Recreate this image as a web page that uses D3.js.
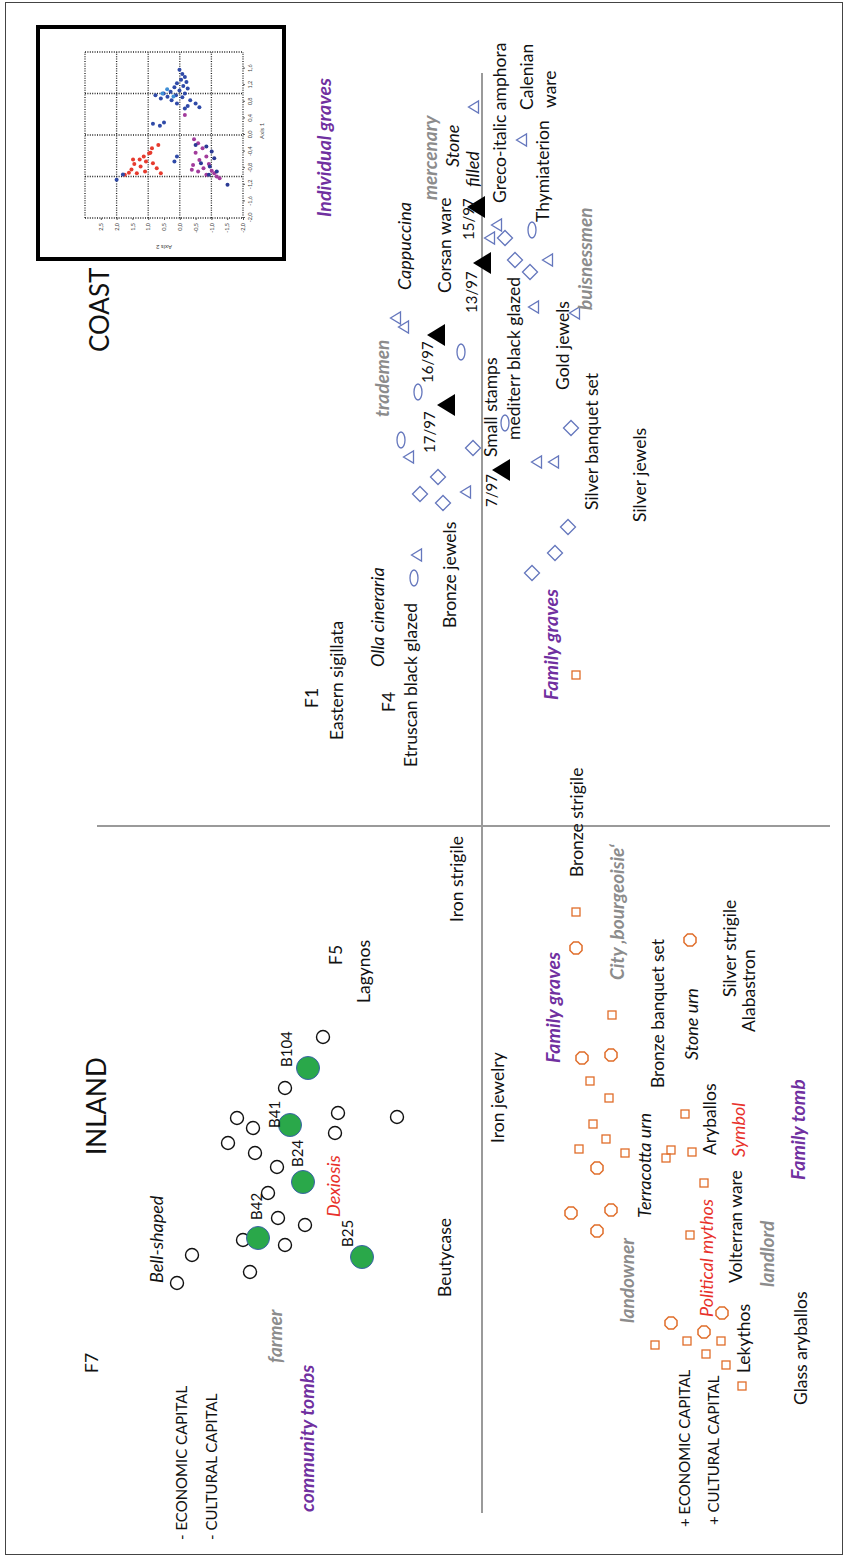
<!DOCTYPE html>
<html>
<head>
<meta charset="utf-8">
<script src="https://cdn.jsdelivr.net/npm/d3@7"></script>
<style>
  body { margin: 0; background: #fff; }
  svg { display: block; }
  text { font-family: Lato, 'Open Sans', sans-serif; fill: #111; }
</style>
</head>
<body>
<svg id="chart"></svg>
<script>
// ---- data (Axis 1 = horizontal, Axis 2 = vertical, in the reading orientation) ----
const openTriangles = [[7.19,0.08],[6.86,-0.40],[6.01,-0.15],[5.88,-0.08],[5.66,-0.66],[5.19,-0.52],
  [5.13,-0.93],[5.08,0.86],[4.99,0.78],[3.69,0.73],[3.34,0.16],[3.64,-0.55],[3.64,-0.72],[2.71,0.65]];
const diamonds = [[5.88,-0.23],[5.66,-0.33],[5.54,-0.48],[3.78,0.09],[3.49,0.44],[3.32,0.62],
  [3.23,0.39],[3.98,-0.89],[2.99,-0.86],[2.73,-0.73],[2.53,-0.50]];
const ellipses = [[5.96,-0.50],[4.74,0.21],[4.34,0.64],[3.86,0.81],[4.03,-0.23],[2.48,0.68]];
const filledTriangles = [[6.19,0.05],[5.63,-0.01],[4.91,0.45],[4.21,0.35],[3.56,-0.20]];
const openCircles = [[-2.11,1.59],[-2.62,1.97],[-2.92,2.45],[-3.02,2.29],[-3.17,2.54],[-3.27,2.27],
  [-3.41,2.05],[-2.87,1.44],[-3.07,1.47],[-2.91,0.85],[-3.67,2.14],[-3.92,2.04],[-3.99,1.77],
  [-4.19,1.97],[-4.14,2.39],[-4.46,2.32],[-4.29,2.90],[-4.57,3.05]];
const greenGraves = ['B104', 'B41', 'B24', 'B42', 'B25'];
const greenPoints = [[-2.42,1.74],[-2.99,1.92],[-3.56,1.79],[-4.12,2.24],[-4.31,1.20]];
const greenLabelPoints = [[-2.41,1.95],[-3.02,2.07],[-3.41,1.84],[-3.94,2.25],[-4.21,1.34]];
const squares = [[1.51,-0.94],[-0.86,-0.94],[-1.89,-1.30],[-2.55,-1.08],[-2.72,-1.27],[-2.98,-1.11],
  [-3.13,-1.24],[-3.23,-0.97],[-3.27,-1.43],[-2.88,-2.03],[-3.24,-1.89],[-3.32,-1.84],[-3.26,-2.10],
  [-3.57,-2.22],[-4.09,-2.08],[-5.19,-1.73],[-5.15,-2.05],[-5.28,-2.24],[-5.15,-2.39],[-5.39,-2.44],
  [-5.60,-2.60]];
const octagons = [[-1.22,-0.94],[-1.14,-2.08],[-2.32,-1.00],[-2.29,-1.29],[-3.42,-1.15],[-3.87,-0.89],
  [-3.84,-1.29],[-4.05,-1.15],[-4.97,-1.89],[-5.06,-2.22],[-4.87,-2.40]];

// text start (left end) of every annotation
const labels = [
  ['COAST', 4.74, 3.82, 'big'], ['INLAND', -3.29, 3.85, 'big'],
  ['Individual graves', 6.09, 1.58, 'group'], ['mercenary', 6.26, 0.52, 'role'],
  ['Stone', 6.59, 0.29, 'italic'], ['filled', 6.39, 0.09, 'italic'],
  ['Greco-italic amphora', 6.23, -0.18, 'plain'], ['Calenian', 7.16, -0.45, 'plain'],
  ['ware', 7.18, -0.68, 'plain'], ['Thymiaterion', 6.04, -0.61, 'plain'],
  ['Cappuccina', 5.36, 0.77, 'italic'], ['Corsan ware', 5.33, 0.37, 'plain'],
  ['15/97', 5.86, 0.13, 'small'], ['13/97', 5.13, 0.10, 'small'],
  ['buisnessmen', 5.16, -1.03, 'role'], ['16/97', 4.43, 0.54, 'small'],
  ['17/97', 3.73, 0.52, 'small'], ['trademen', 4.09, 1.00, 'role'],
  ['Small stamps', 3.69, -0.09, 'plain'], ['mediterr black glazed', 3.86, -0.32, 'plain'],
  ['7/97', 3.19, -0.10, 'small'], ['Gold jewels', 4.36, -0.81, 'plain'],
  ['Silver banquet set', 3.16, -1.10, 'plain'], ['Silver jewels', 3.04, -1.58, 'plain'],
  ['Bronze jewels', 1.98, 0.32, 'plain'], ['Olla cineraria', 1.59, 1.04, 'italic'],
  ['F1', 1.18, 1.70, 'plain'], ['Eastern sigillata', 0.86, 1.45, 'plain'],
  ['F4', 1.14, 0.93, 'plain'], ['Etruscan black glazed', 0.59, 0.71, 'plain'],
  ['Family graves', 1.26, -0.69, 'group'], ['Bronze strigile', -0.51, -0.95, 'plain'],
  ['Iron strigile', -0.96, 0.25, 'plain'], ['City \u201abourgeoisie\u2018', -1.54, -1.35, 'role'],
  ['F5', -1.39, 1.46, 'plain'], ['Lagynos', -1.77, 1.18, 'plain'],
  ['Family graves', -2.37, -0.71, 'group'], ['Bronze banquet set', -2.62, -1.76, 'plain'],
  ['Silver strigile', -1.71, -2.48, 'plain'], ['Alabastron', -2.06, -2.67, 'plain'],
  ['Stone urn', -2.34, -2.10, 'italic'], ['Iron jewelry', -3.17, -0.16, 'plain'],
  ['Aryballos', -3.29, -2.28, 'plain'], ['Symbol', -3.31, -2.57, 'symbol'],
  ['Family tomb', -3.54, -3.16, 'group'], ['Terracotta urn', -3.92, -1.63, 'italic'],
  ['Dexiosis', -3.91, 1.48, 'symbol'], ['Beutycase', -4.71, 0.37, 'plain'],
  ['landowner', -4.97, -1.45, 'role'], ['Political mythos', -4.91, -2.25, 'symbol'],
  ['Volterran ware', -4.57, -2.54, 'plain'], ['landlord', -4.61, -2.85, 'role'],
  ['Lekythos', -5.47, -2.62, 'plain'], ['Glass aryballos', -5.79, -3.19, 'plain'],
  ['+ ECONOMIC CAPITAL', -7.01, -2.03, 'caps'], ['+ CULTURAL CAPITAL', -6.99, -2.32, 'caps'],
  ['- ECONOMIC CAPITAL', -7.14, 3.00, 'caps'], ['- CULTURAL CAPITAL', -7.14, 2.70, 'caps'],
  ['community tombs', -6.86, 1.75, 'group'], ['farmer', -5.37, 2.07, 'role'],
  ['F7', -5.47, 3.90, 'plain'], ['Bell-shaped', -4.57, 3.25, 'italic']
];

// small inset: original scatter (Axis 1, Axis 2)
const insetBlue = [[1.57,0.01],[1.47,-0.08],[1.40,-0.16],[1.33,-0.04],[1.28,-0.21],[1.25,0.09],
  [1.18,-0.11],[1.15,0.17],[1.12,-0.25],[1.07,0.01],[1.04,0.29],[1.00,-0.16],[0.96,0.12],[1.00,0.51],
  [0.92,0.39],[0.91,-0.08],[0.84,-0.33],[0.76,-0.50],[0.70,-0.25],[0.67,-0.62],[0.88,0.60],[0.96,0.77],
  [0.84,0.26],[0.76,0.09],[0.64,-0.16],[0.27,0.85],[0.22,0.63],[0.30,0.50],[-0.95,1.80],[-1.08,2.00],
  [-0.64,0.17],[-0.52,0.09]];
const insetLightBlue = [[1.00,0.55],[1.10,0.40],[0.93,0.20]];
const insetRed = [[-0.24,0.68],[-0.32,0.88],[-0.44,0.97],[-0.52,1.14],[-0.59,1.27],[-0.64,1.07],
  [-0.68,0.85],[-0.70,1.44],[-0.76,1.24],[-0.83,1.53],[-0.80,0.73],[-0.91,1.61],[-0.92,1.36],
  [-0.92,0.60],[-0.96,1.74],[-0.88,1.10],[-0.43,0.93],[-0.59,1.48]];
const insetPurple = [[-0.10,-0.45],[-0.20,-0.58],[-0.32,-0.72],[-0.43,-0.50],[-0.52,-0.84],
  [-0.60,-0.62],[-0.72,-0.42],[-0.70,-0.92],[-0.80,-0.75],[-0.86,-1.01],[-0.88,-0.58],[-0.92,-1.09],
  [-1.00,-1.17],[-0.96,-0.84],[-1.04,-1.26],[-0.84,-0.38],[0.48,-0.16]];
const insetNavy = [[-0.28,-0.84],[-0.40,-1.01],[-0.56,-1.09],[-0.76,-0.95],[-0.88,-1.17],
  [-0.68,-0.67],[-0.96,-0.92],[-0.24,-0.50],[-1.20,-1.51]];
const axis1Ticks = [-2.0, -1.6, -1.2, -0.8, -0.4, 0.0, 0.4, 0.8, 1.2, 1.6];
const axis2Ticks = [-2.0, -1.5, -1.0, -0.5, 0.0, 0.5, 1.0, 1.5, 2.0, 2.5];

// ---- drawing ----
const W = 846, H = 1557;
const blue = '#6577bd', orange = '#e06d2a';

const labelStyle = {
  plain: { size: 17.5 },
  italic: { size: 18, italic: true },
  small: { size: 15 },
  caps: { size: 15 },
  big: { size: 26 },
  group: { size: 19.5, italic: true, weight: 700, color: '#7030a0' },
  role: { size: 19, italic: true, weight: 700, color: '#8c8c8c' },
  symbol: { size: 18, italic: true, color: '#e8312b' }
};

const svg = d3.select('#chart').attr('width', W).attr('height', H);
svg.append('rect').attr('width', W).attr('height', H).attr('fill', '#fff');
svg.append('rect')
  .attr('x', 5.5).attr('y', 2.5).attr('width', 837).attr('height', 1552)
  .attr('fill', 'none').attr('stroke', '#444').attr('stroke-width', 1);

// whole figure is turned a quarter to the left
const g = svg.append('g').attr('transform', `translate(0,${H}) rotate(-90)`);

const x = d3.scaleLinear().domain([-7.31, 8.26]).range([0, H]);
const y = d3.scaleLinear().domain([4.82, -3.64]).range([0, W]);

// axes through the origin
g.append('line')
  .attr('x1', x(-6.87)).attr('x2', x(7.53)).attr('y1', y(0)).attr('y2', y(0))
  .attr('stroke', '#9a9a9a').attr('stroke-width', 2);
g.append('line')
  .attr('x1', x(0)).attr('x2', x(0)).attr('y1', y(3.85)).attr('y2', y(-3.48))
  .attr('stroke', '#9a9a9a').attr('stroke-width', 2);

const at = (d) => `translate(${x(d[0])},${y(d[1])})`;

g.selectAll('.tri').data(openTriangles).join('path')
  .attr('transform', at).attr('d', 'M0,-5.5L6,4.5L-6,4.5Z')
  .attr('fill', 'none').attr('stroke', blue).attr('stroke-width', 1.3);

g.selectAll('.dia').data(diamonds).join('path')
  .attr('transform', at).attr('d', 'M0,-7.5L7.5,0L0,7.5L-7.5,0Z')
  .attr('fill', 'none').attr('stroke', blue).attr('stroke-width', 1.3);

g.selectAll('.ell').data(ellipses).join('ellipse')
  .attr('transform', at).attr('rx', 8).attr('ry', 4)
  .attr('fill', 'none').attr('stroke', blue).attr('stroke-width', 1.3);

g.selectAll('.ftri').data(filledTriangles).join('path')
  .attr('transform', at).attr('d', 'M0,-10L11,8L-11,8Z')
  .attr('fill', '#000');

g.selectAll('.circ').data(openCircles).join('circle')
  .attr('transform', at).attr('r', 6.5)
  .attr('fill', 'none').attr('stroke', '#111').attr('stroke-width', 1.4);

g.selectAll('.green').data(greenPoints).join('circle')
  .attr('transform', at).attr('r', 11.5)
  .attr('fill', '#2aa84a').attr('stroke', '#3a62a8').attr('stroke-width', 1);

g.selectAll('.sq').data(squares).join('rect')
  .attr('transform', at).attr('x', -4).attr('y', -4).attr('width', 8).attr('height', 8)
  .attr('fill', 'none').attr('stroke', orange).attr('stroke-width', 1.3);

const octagon = d3.range(8).map((i) => {
  const a = Math.PI / 8 + i * Math.PI / 4;
  return [6.5 * Math.cos(a), 6.5 * Math.sin(a)];
});
g.selectAll('.oct').data(octagons).join('path')
  .attr('transform', at).attr('d', 'M' + octagon.join('L') + 'Z')
  .attr('fill', 'none').attr('stroke', orange).attr('stroke-width', 1.5);

// labels
const txt = g.append('g');
txt.selectAll('text').data(labels).join('text')
  .attr('x', (d) => x(d[1])).attr('y', (d) => y(d[2])).attr('dy', '0.35em')
  .attr('font-size', (d) => labelStyle[d[3]].size)
  .attr('font-style', (d) => labelStyle[d[3]].italic ? 'italic' : 'normal')
  .attr('font-weight', (d) => labelStyle[d[3]].weight || 400)
  .style('fill', (d) => labelStyle[d[3]].color || '#111')
  .text((d) => d[0]);

txt.selectAll('.glab').data(greenGraves).join('text')
  .attr('x', (d, i) => x(greenLabelPoints[i][0])).attr('y', (d, i) => y(greenLabelPoints[i][1]))
  .attr('dy', '0.35em').attr('font-size', 15)
  .text((d) => d);

// ---- inset of the original scatter ----
const inset = g.append('g');
inset.append('rect')
  .attr('x', 1298).attr('y', 38).attr('width', 232).attr('height', 246)
  .attr('fill', '#fff').attr('stroke', '#000').attr('stroke-width', 4);

const ix = d3.scaleLinear().domain([-2, 2]).range([1339, 1505]);
const iy = d3.scaleLinear().domain([3, -2]).range([85, 243]);
const comma = (d) => d3.format('.1f')(d).replace('.', ',').replace('\u2212', '-');

inset.append('g').selectAll('line').data([-2, -1, 0, 1, 2]).join('line')
  .attr('x1', (d) => ix(d)).attr('x2', (d) => ix(d)).attr('y1', iy(3)).attr('y2', iy(-2))
  .attr('stroke', '#222').attr('stroke-width', 1.3).attr('stroke-dasharray', '1,1.4');
inset.append('g').selectAll('line').data([3, 2, 1, 0, -1, -2]).join('line')
  .attr('x1', ix(-2)).attr('x2', ix(2)).attr('y1', (d) => iy(d)).attr('y2', (d) => iy(d))
  .attr('stroke', '#222').attr('stroke-width', 1.3).attr('stroke-dasharray', '1,1.4');

const bottomAxis = inset.append('g').attr('transform', `translate(0,${iy(-2)})`)
  .call(d3.axisBottom(ix).tickValues(axis1Ticks).tickFormat(comma).tickSize(2).tickPadding(3));
const leftAxis = inset.append('g').attr('transform', `translate(${ix(-2)},0)`)
  .call(d3.axisLeft(iy).tickValues(axis2Ticks).tickFormat(comma).tickSize(2).tickPadding(3));
[bottomAxis, leftAxis].forEach((a) => {
  a.select('.domain').remove();
  a.selectAll('line').attr('stroke', '#555');
  a.selectAll('text').attr('font-size', 5.5).style('fill', '#444');
});

inset.append('text').attr('x', ix(0.1)).attr('y', 264).attr('text-anchor', 'middle')
  .attr('font-size', 6).style('fill', '#444').text('Axis 1');
inset.append('text').attr('transform', `translate(1312,${iy(0.5)}) rotate(-90)`)
  .attr('text-anchor', 'middle').attr('font-size', 6).style('fill', '#444').text('Axis 2');

const dots = (data, color) => inset.append('g').selectAll('circle').data(data).join('circle')
  .attr('cx', (d) => ix(d[0])).attr('cy', (d) => iy(d[1])).attr('r', 2)
  .attr('fill', color);
dots(insetRed, '#e63b2e');
dots(insetPurple, '#a23c9c');
dots(insetNavy, '#2b3a94');
dots(insetBlue, '#2f4aa8');
dots(insetLightBlue, '#3f8fd6');
</script>
</body>
</html>
